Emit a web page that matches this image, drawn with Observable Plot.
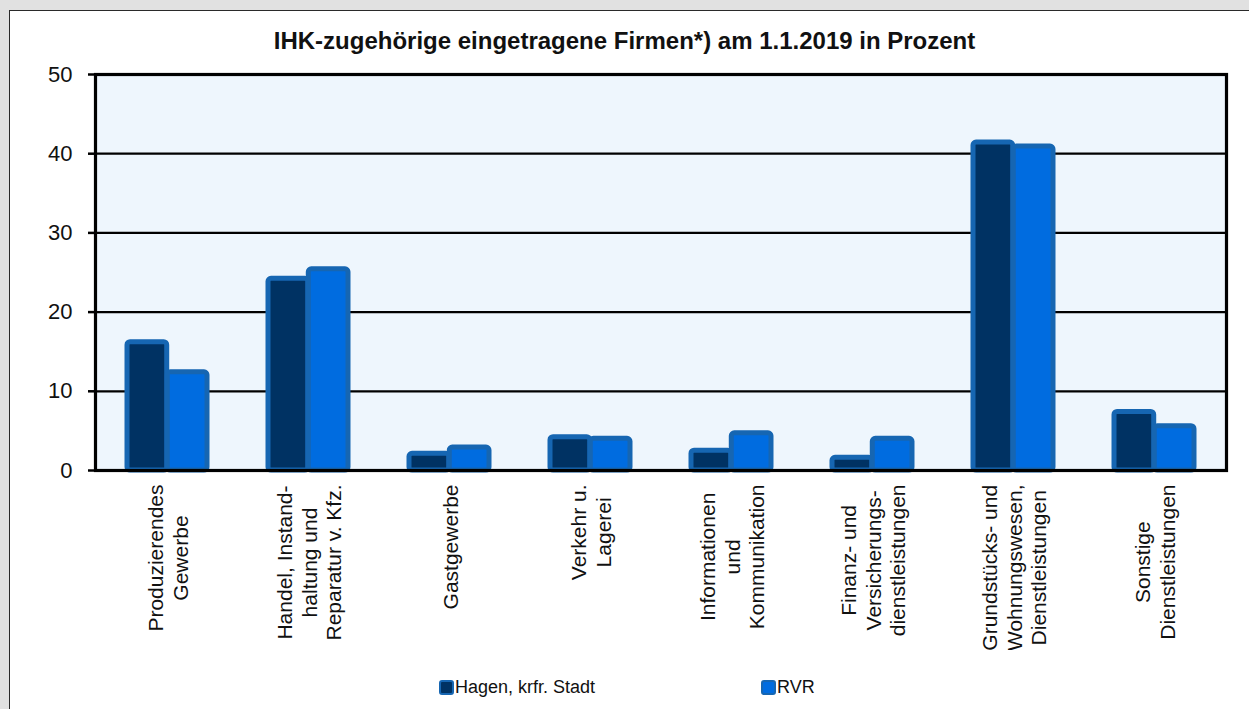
<!DOCTYPE html>
<html>
<head>
<meta charset="utf-8">
<script src="https://cdn.jsdelivr.net/npm/d3@7"></script>
<script src="https://cdn.jsdelivr.net/npm/@observablehq/plot@0.6"></script>
<style>
  html, body { margin: 0; padding: 0; }
  body { width: 1249px; height: 709px; overflow: hidden; background: #e1e1e1; position: relative;
         font-family: "Liberation Sans", Arial, sans-serif; }
  #panel { position: absolute; left: 9px; top: 10px; width: 1300px; height: 760px; background: #fff;
           border: 1px solid #2a2a2a; box-sizing: border-box; }
  #title { position: absolute; left: 0; top: 27px; width: 1249px; text-align: center;
           font-weight: bold; font-size: 24px; color: #111; }
  #chart { position: absolute; left: 0; top: 0; }
  .lg { position: absolute; top: 677px; font-size: 18px; color: #111; display: flex; align-items: center; }
  .sw { width: 11px; height: 11px; border: 2px solid #1666b2; border-radius: 3px; margin-right: 1px; }
</style>
</head>
<body>
<div id="panel"></div>
<div id="title"></div>
<div id="chart"></div>
<div id="legend"></div>
<script>
const title = "IHK-zugehörige eingetragene Firmen*) am 1.1.2019 in Prozent";
const categories = [
  "Produzierendes\nGewerbe",
  "Handel, Instand-\nhaltung und\nReparatur v. Kfz.",
  "Gastgewerbe",
  "Verkehr u.\nLagerei",
  "Informationen\nund\nKommunikation",
  "Finanz- und\nVersicherungs-\ndienstleistungen",
  "Grundstücks- und\nWohnungswesen,\nDienstleistungen",
  "Sonstige\nDienstleistungen"
];
const series = ["Hagen, krfr. Stadt", "RVR"];
const hagen = [16.2, 24.2, 2.1, 4.2, 2.5, 1.6, 41.4, 7.4];
const rvr   = [12.4, 25.4, 2.9, 4.0, 4.7, 4.0, 40.9, 5.6];
const yTicks = [0, 10, 20, 30, 40, 50];
const colors = ["#003263", "#006ce0"];

const data = categories.flatMap((c, i) => [
  {cat: c, series: series[0], value: hagen[i]},
  {cat: c, series: series[1], value: rvr[i]}
]);

document.getElementById("title").textContent = title;

// layout
const W = 1249, H = 650, mL = 95, mR = 23, mT = 74, mB = 180;
const padInner = 0.43;
const bandwidth = (W - mL - mR) / categories.length * (1 - padInner);
const half = bandwidth / 2;

const labelFont = 21;
const ctx = document.createElement("canvas").getContext("2d");
ctx.font = `${labelFont}px "Liberation Sans"`;
const maxLine = c => d3.max(c.split("\n"), s => ctx.measureText(s).width);

const labelMarks = categories.map(c => Plot.text([c], {
  x: d => d, text: d => d, frameAnchor: "bottom", rotate: -90,
  textAnchor: "middle", lineAnchor: "middle", lineHeight: 1.19, fontSize: labelFont, fill: "#111",
  dy: 14 + maxLine(c) / 2
}));

const barOpts = {x: "cat", y: "value", fill: "series", stroke: "#1666b2", strokeWidth: 5, rx: 3};

const chart = Plot.plot({
  width: W, height: H,
  marginLeft: mL, marginRight: mR, marginTop: mT, marginBottom: mB,
  style: {background: "transparent", fontFamily: "'Liberation Sans', Arial, sans-serif", color: "#111"},
  x: {domain: categories, paddingInner: padInner, paddingOuter: padInner / 2, axis: null},
  y: {domain: [0, 50], axis: null},
  color: {domain: series, range: colors},
  marks: [
    Plot.frame({fill: "#eef6fd"}),
    Plot.gridY(yTicks.slice(1, -1), {stroke: "#000", strokeOpacity: 1, strokeWidth: 2.2}),
    Plot.barY(data.filter(d => d.series === series[0]), {...barOpts, insetRight: half}),
    Plot.barY(data.filter(d => d.series === series[1]), {...barOpts, insetLeft: half}),
    Plot.ruleY([0], {stroke: "#000", strokeWidth: 2.5}),
    Plot.frame({stroke: "#000", strokeWidth: 3.2}),
    Plot.axisY({ticks: yTicks, tickSize: 7, tickPadding: 16, fontSize: 22, label: null,
      strokeWidth: 2.5, stroke: "#000"}),
    ...labelMarks
  ]
});
document.getElementById("chart").appendChild(chart);

const legend = document.getElementById("legend");
const lgLeft = [439, 761];
series.forEach((s, i) => {
  const item = document.createElement("div");
  item.className = "lg";
  item.style.left = lgLeft[i] + "px";
  const sw = document.createElement("div");
  sw.className = "sw";
  sw.style.background = colors[i];
  const t = document.createElement("span");
  t.textContent = s;
  item.appendChild(sw); item.appendChild(t);
  legend.appendChild(item);
});
</script>
</body>
</html>
